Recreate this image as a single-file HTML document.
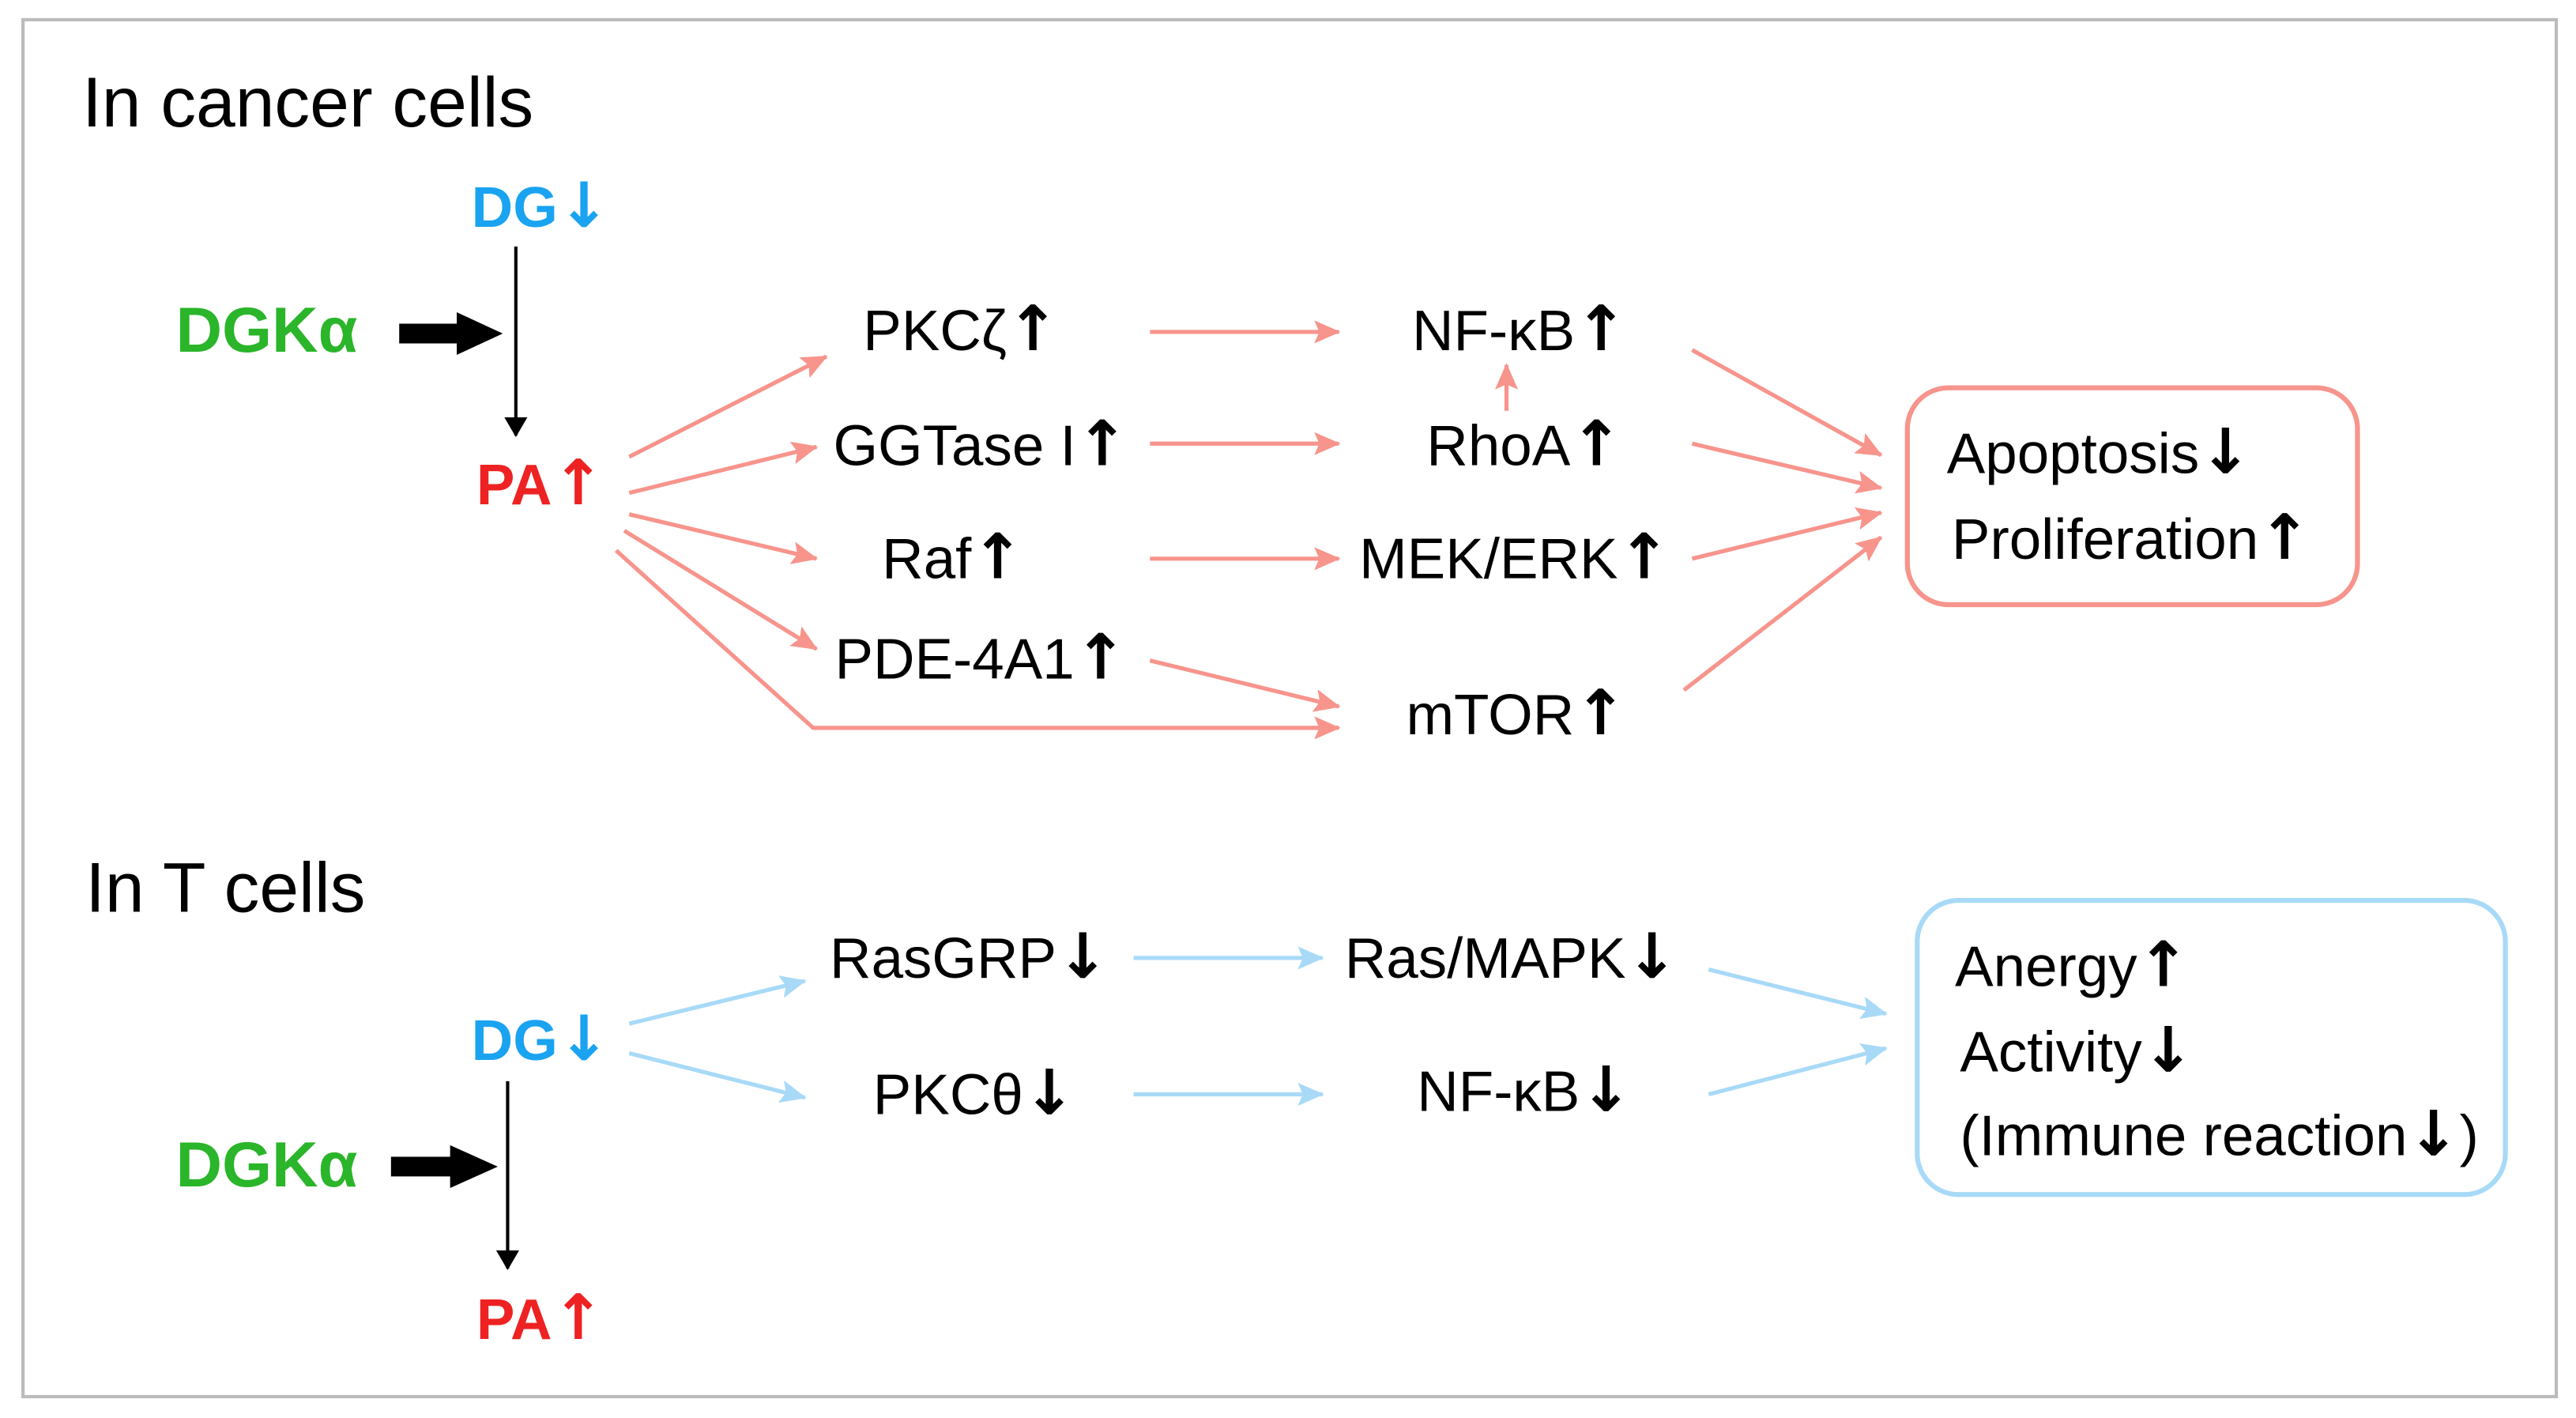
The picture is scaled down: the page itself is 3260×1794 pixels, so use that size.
<!DOCTYPE html>
<html><head><meta charset="utf-8"><style>
html,body{margin:0;padding:0;background:#fff;}
svg{display:block;}
text{font-family:"Liberation Sans","DejaVu Sans",sans-serif;}
.a{font-family:"DejaVu Sans",sans-serif;font-size:38px;font-weight:bold;}
</style></head><body>
<svg width="3260" height="1794" viewBox="0 0 1568 863" preserveAspectRatio="none" xmlns="http://www.w3.org/2000/svg">
<defs>
<marker id="pkL" markerWidth="16" markerHeight="14" refX="15" refY="7" orient="auto" markerUnits="userSpaceOnUse"><path d="M0,0 L16,7 L0,14 L3,7 z" fill="#f7948c"/></marker>
<marker id="bl" markerWidth="16" markerHeight="14" refX="15" refY="7" orient="auto" markerUnits="userSpaceOnUse"><path d="M0,0 L16,7 L0,14 L3,7 z" fill="#a8daf7"/></marker>
<marker id="bk" markerWidth="12" markerHeight="14" refX="11" refY="7" orient="auto" markerUnits="userSpaceOnUse"><path d="M0,0 L12,7 L0,14 z" fill="#000"/></marker>
</defs>
<rect x="14" y="12" width="1542" height="838" fill="#fff" stroke="#bbb" stroke-width="2"/>

<text x="50" y="77" font-size="43">In cancer cells</text>
<text x="287" y="138" font-size="35" font-weight="bold" fill="#1aa3f0">DG<tspan class="a" fill="#1aa3f0">↓</tspan></text>
<text x="107" y="214" font-size="39" font-weight="bold" fill="#2ab52a">DGKα</text>
<path d="M243,203 L280,203" stroke="#000" stroke-width="12"/>
<path d="M278,190 L306,203 L278,216 z" fill="#000"/>
<line x1="314" y1="150" x2="314" y2="265" stroke="#000" stroke-width="2" marker-end="url(#bk)"/>
<text x="290" y="307" font-size="35" font-weight="bold" fill="#ee2222">PA<tspan class="a" fill="#ee2222">↑</tspan></text>

<g stroke="#f7948c" stroke-width="2.5" fill="none">
<line x1="383" y1="278" x2="503" y2="217" marker-end="url(#pkL)"/>
<line x1="383" y1="300" x2="497" y2="272" marker-end="url(#pkL)"/>
<line x1="383" y1="313" x2="497" y2="340" marker-end="url(#pkL)"/>
<line x1="380" y1="323" x2="497" y2="395" marker-end="url(#pkL)"/>
<polyline points="375,335 495,443 815,443" marker-end="url(#pkL)"/>
<line x1="700" y1="202" x2="815" y2="202" marker-end="url(#pkL)"/>
<line x1="700" y1="270" x2="815" y2="270" marker-end="url(#pkL)"/>
<line x1="700" y1="340" x2="815" y2="340" marker-end="url(#pkL)"/>
<line x1="700" y1="402" x2="815" y2="430" marker-end="url(#pkL)"/>
<line x1="917" y1="250" x2="917" y2="222" marker-end="url(#pkL)"/>
<line x1="1030" y1="213" x2="1145" y2="277" marker-end="url(#pkL)"/>
<line x1="1030" y1="270" x2="1145" y2="297" marker-end="url(#pkL)"/>
<line x1="1030" y1="340" x2="1145" y2="312" marker-end="url(#pkL)"/>
<line x1="1025" y1="420" x2="1145" y2="327" marker-end="url(#pkL)"/>
</g>

<g font-size="35" fill="#000" text-anchor="middle">
<text x="585" y="213">PKCζ<tspan class="a">↑</tspan></text>
<text x="597" y="283">GGTase I<tspan class="a">↑</tspan></text>
<text x="580" y="352">Raf<tspan class="a">↑</tspan></text>
<text x="597" y="413">PDE-4A1<tspan class="a">↑</tspan></text>
<text x="925" y="213">NF-κB<tspan class="a">↑</tspan></text>
<text x="928" y="283">RhoA<tspan class="a">↑</tspan></text>
<text x="922" y="352">MEK/ERK<tspan class="a">↑</tspan></text>
<text x="923" y="447">mTOR<tspan class="a">↑</tspan></text>
<text x="590" y="595">RasGRP<tspan class="a">↓</tspan></text>
<text x="593" y="678">PKCθ<tspan class="a">↓</tspan></text>
<text x="920" y="595">Ras/MAPK<tspan class="a">↓</tspan></text>
<text x="928" y="676">NF-κB<tspan class="a">↓</tspan></text>
</g>

<rect x="1161" y="236" width="274" height="132" rx="25" fill="none" stroke="#f7948c" stroke-width="3"/>
<text x="1185" y="288" font-size="35">Apoptosis<tspan class="a">↓</tspan></text>
<text x="1188" y="340" font-size="35">Proliferation<tspan class="a">↑</tspan></text>

<text x="52" y="555" font-size="43">In T cells</text>
<text x="287" y="645" font-size="35" font-weight="bold" fill="#1aa3f0">DG<tspan class="a" fill="#1aa3f0">↓</tspan></text>
<text x="107" y="722" font-size="39" font-weight="bold" fill="#2ab52a">DGKα</text>
<path d="M238,710 L276,710" stroke="#000" stroke-width="12"/>
<path d="M274,697 L303,710 L274,723 z" fill="#000"/>
<line x1="309" y1="658" x2="309" y2="772" stroke="#000" stroke-width="2" marker-end="url(#bk)"/>
<text x="290" y="815" font-size="35" font-weight="bold" fill="#ee2222">PA<tspan class="a" fill="#ee2222">↑</tspan></text>

<g stroke="#a8daf7" stroke-width="2.5" fill="none">
<line x1="383" y1="623" x2="490" y2="597" marker-end="url(#bl)"/>
<line x1="383" y1="641" x2="490" y2="668" marker-end="url(#bl)"/>
<line x1="690" y1="583" x2="805" y2="583" marker-end="url(#bl)"/>
<line x1="690" y1="666" x2="805" y2="666" marker-end="url(#bl)"/>
<line x1="1040" y1="590" x2="1148" y2="617" marker-end="url(#bl)"/>
<line x1="1040" y1="666" x2="1148" y2="638" marker-end="url(#bl)"/>
</g>
<rect x="1167" y="548" width="358" height="179" rx="25" fill="none" stroke="#a8daf7" stroke-width="3"/>
<text x="1190" y="600" font-size="35">Anergy<tspan class="a">↑</tspan></text>
<text x="1193" y="652" font-size="35">Activity<tspan class="a">↓</tspan></text>
<text x="1193" y="703" font-size="35">(Immune reaction<tspan class="a">↓</tspan>)</text>
</svg>
</body></html>
